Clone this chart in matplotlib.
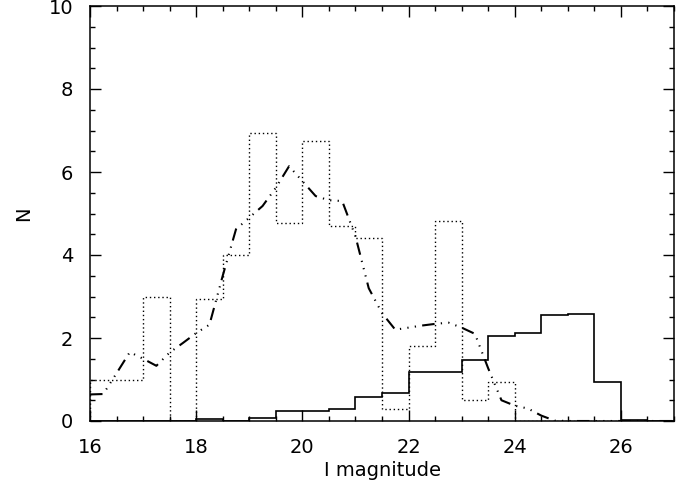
import numpy as np
import matplotlib
matplotlib.use("Agg")
import matplotlib.pyplot as plt
from matplotlib.ticker import MultipleLocator

# Histogram bin edges (0.5 mag bins)
bin_edges = [16.0, 16.5, 17.0, 17.5, 18.0, 18.5, 19.0, 19.5, 20.0, 20.5, 21.0,
             21.5, 22.0, 22.5, 23.0, 23.5, 24.0, 24.5, 25.0, 25.5, 26.0, 26.5, 27.0]

# Dotted histogram
dotted_counts = [1.0, 1.0, 3.0, 0.0, 2.95, 4.0, 6.95, 4.78, 6.75, 4.7, 4.4,
                 0.3, 1.8, 4.83, 0.5, 0.95, 0.0, 0.0, 0.0, 0.0, 0.0, 0.0]

# Solid histogram
solid_counts = [0.0, 0.0, 0.0, 0.0, 0.05, 0.0, 0.08, 0.23, 0.25, 0.28, 0.59,
                0.67, 1.18, 1.17, 1.47, 2.04, 2.11, 2.56, 2.58, 0.93, 0.03, 0.0]

# Dash-dot-dot-dot curve
curve_x = [16.0, 16.25, 16.5, 16.75, 17.0, 17.25, 17.5, 17.75, 18.0, 18.25, 18.5,
           18.75, 19.0, 19.25, 19.5, 19.75, 20.0, 20.25, 20.5, 20.75, 21.0, 21.25,
           21.5, 21.75, 22.0, 22.25, 22.5, 22.75, 23.0, 23.25, 23.5, 23.75, 24.0,
           24.25, 24.5, 24.75, 25.0, 25.5, 26.0, 26.5, 27.0]
curve_y = [0.64, 0.65, 1.15, 1.66, 1.5, 1.33, 1.65, 1.88, 2.12, 2.32, 3.5,
           4.62, 4.9, 5.18, 5.62, 6.14, 5.78, 5.42, 5.32, 5.3, 4.45, 3.2,
           2.6, 2.2, 2.25, 2.3, 2.34, 2.37, 2.25, 2.1, 1.27, 0.5, 0.37,
           0.3, 0.13, 0.01, 0.0, 0.0, 0.0, 0.0, 0.0]

x_ticks = [16, 18, 20, 22, 24, 26]
y_ticks = [0, 2, 4, 6, 8, 10]

plt.rcParams['font.family'] = ['DejaVu Sans']

fig = plt.figure(figsize=(6.83, 4.92), dpi=100)
ax = fig.add_axes([90 / 683, (492 - 421) / 492, 584 / 683, 415 / 492])

ax.stairs(dotted_counts, bin_edges, color='black', linewidth=1.0,
          linestyle=(0, (1, 2.0)))
ax.stairs(solid_counts, bin_edges, color='black', linewidth=1.2)
ax.plot(curve_x, curve_y, color='black', linewidth=1.5,
        dashes=[6.0, 3.0, 0.6, 3.0, 0.6, 3.0, 0.6, 3.0])

ax.set_xlim(16, 27)
ax.set_ylim(0, 10)
ax.set_xticks(x_ticks)
ax.set_yticks(y_ticks)
ax.xaxis.set_minor_locator(MultipleLocator(0.5))
ax.yaxis.set_minor_locator(MultipleLocator(0.5))
ax.tick_params(which='both', direction='in', top=True, right=True,
               width=1.0, labelsize=14, pad=12)
ax.tick_params(which='major', length=8)
ax.tick_params(which='minor', length=3.6)
for s in ax.spines.values():
    s.set_linewidth(1.1)

ax.set_xlabel('I magnitude', fontsize=14, labelpad=3)
ax.set_ylabel('N', fontsize=14, labelpad=11)

fig.savefig('out.png', dpi=100)
